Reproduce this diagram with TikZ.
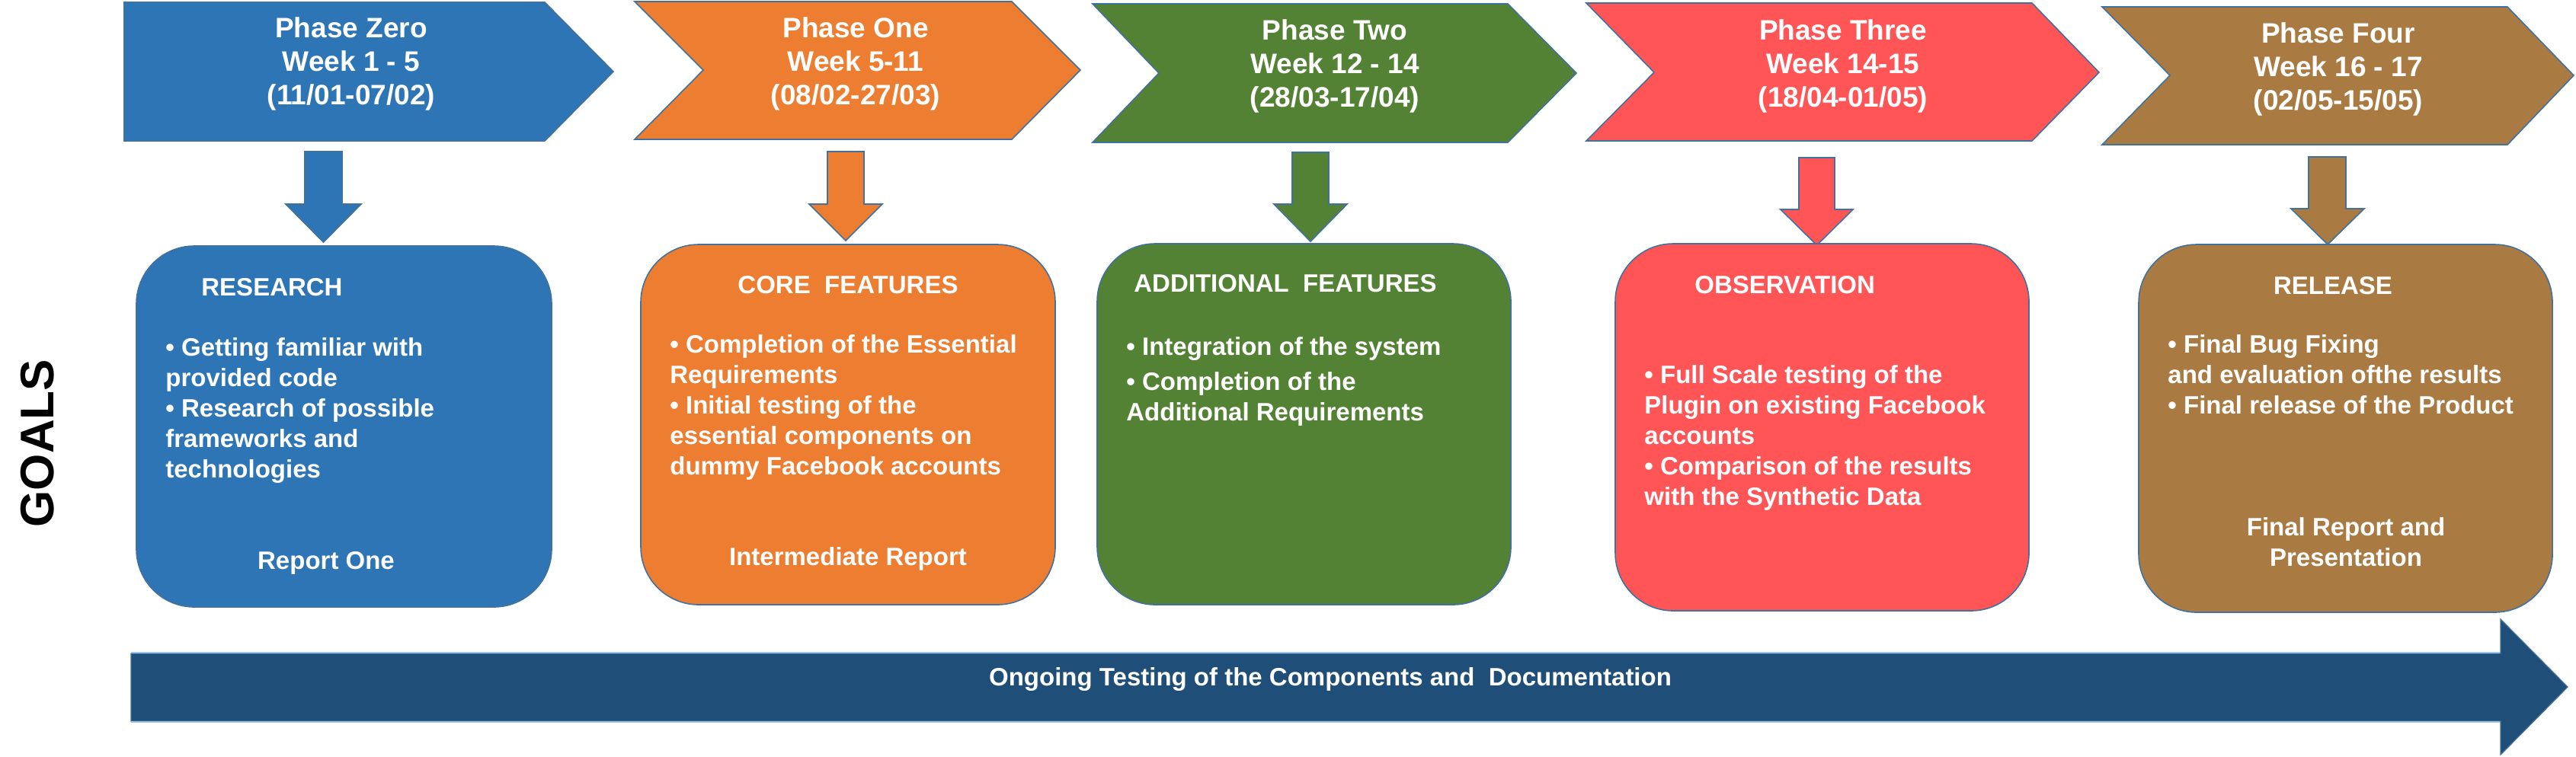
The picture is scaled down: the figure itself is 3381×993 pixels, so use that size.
\documentclass[tikz,border=0pt]{standalone}
\usepackage{fontspec}
\setmainfont{Liberation Sans}
\usepackage{tikz}
\usepackage{xcolor}
\definecolor{phaseblue}{RGB}{46,117,182}
\definecolor{phaseorange}{RGB}{237,125,49}
\definecolor{phasegreen}{RGB}{84,130,53}
\definecolor{phasered}{RGB}{255,85,87}
\definecolor{phasebrown}{RGB}{169,123,67}
\definecolor{ongoingblue}{RGB}{31,78,121}
\definecolor{edgeblue}{RGB}{65,113,156}
\definecolor{lightedge}{RGB}{157,195,230}
\tikzset{%
    shapeedge/.style={draw=edgeblue,line width=0.8pt},
    phasetext/.style={text=white,inner sep=0pt,align=center,
        font=\bfseries\fontsize{18.5}{22}\selectfont},
    goaltext/.style={text=white,inner sep=0pt,align=left,
        font=\bfseries\fontsize{16.5}{20}\selectfont}
}

\begin{document}
\begin{tikzpicture}[x=0.5pt,y=-0.5pt]
\useasboundingbox (0,0) rectangle (3381,993);
\filldraw[shapeedge,fill=phaseblue] (163,3) -- (715,3) -- (805,94) -- (715,185) -- (163,185) -- cycle;
\filldraw[shapeedge,fill=phaseorange] (833,2) -- (1328,2) -- (1418,92) -- (1328,183) -- (833,183) -- (923,92) -- cycle;
\filldraw[shapeedge,fill=phasegreen] (1434,5) -- (1979,5) -- (2069,96) -- (1979,187) -- (1434,187) -- (1521,96) -- cycle;
\filldraw[shapeedge,fill=phasered] (2082,4) -- (2667,4) -- (2755,95) -- (2667,185) -- (2082,185) -- (2171,95) -- cycle;
\filldraw[shapeedge,fill=phasebrown] (2759,9) -- (3291,9) -- (3378,99) -- (3291,190) -- (2759,190) -- (2848,99) -- cycle;
\node[phasetext,anchor=base] (p0) at (461,137) {Phase Zero\\Week 1 - 5\\(11/01-07/02)};
\node[phasetext,anchor=base] (p1) at (1123,137) {Phase One\\Week 5-11\\(08/02-27/03)};
\node[phasetext,anchor=base] (p2) at (1752,140) {Phase Two\\Week 12 - 14\\(28/03-17/04)};
\node[phasetext,anchor=base] (p3) at (2419,140) {Phase Three\\Week 14-15\\(18/04-01/05)};
\node[phasetext,anchor=base] (p4) at (3069,144) {Phase Four\\Week 16 - 17\\(02/05-15/05)};
\filldraw[shapeedge,fill=phaseblue] (400,199) -- ++(49,0) -- ++(0,69) -- ++(25,0) -- ++(-49.5,50) -- ++(-49.5,-50) -- ++(25,0) -- cycle;
\filldraw[shapeedge,fill=phaseorange] (1086,199) -- ++(48,0) -- ++(0,69) -- ++(24,0) -- ++(-48,48) -- ++(-48,-48) -- ++(24,0) -- cycle;
\filldraw[shapeedge,fill=phasegreen] (1696,200) -- ++(48,0) -- ++(0,68) -- ++(24,0) -- ++(-48,49) -- ++(-48,-49) -- ++(24,0) -- cycle;
\filldraw[shapeedge,fill=phasered] (2361,207) -- ++(47,0) -- ++(0,68) -- ++(24,0) -- ++(-47.5,47) -- ++(-47.5,-47) -- ++(24,0) -- cycle;
\filldraw[shapeedge,fill=phasebrown] (3030,206) -- ++(49,0) -- ++(0,68) -- ++(24,0) -- ++(-48,47) -- ++(-48,-47) -- ++(23,0) -- cycle;
\filldraw[shapeedge,fill=phaseblue,rounded corners=38pt] (179,323) rectangle (724,797);
\filldraw[shapeedge,fill=phaseorange,rounded corners=38pt] (841,321) rectangle (1385,794);
\filldraw[shapeedge,fill=phasegreen,rounded corners=38pt] (1440,320) rectangle (1983,794);
\filldraw[shapeedge,fill=phasered,rounded corners=38pt] (2120,320) rectangle (2663,802);
\filldraw[shapeedge,fill=phasebrown,rounded corners=38pt] (2807,321) rectangle (3350,804);
\node[goaltext,anchor=base west] (t0) at (264,388) {RESEARCH};
\node[goaltext,anchor=base west] (b0) at (217,627) {• Getting familiar with\\provided code\\• Research of possible\\frameworks and\\technologies};
\node[goaltext,anchor=base] (r0) at (428,747) {Report One};
\node[goaltext,anchor=base] (t1) at (1113,385) {CORE\ \ FEATURES};
\node[goaltext,anchor=base west] (b1) at (879,623) {• Completion of the Essential\\Requirements\\• Initial testing of the\\essential components on\\dummy Facebook accounts};
\node[goaltext,anchor=base] (r1) at (1113,742) {Intermediate Report};
\node[goaltext,anchor=base west] (t2) at (1488,383) {ADDITIONAL\ \ FEATURES};
\node[goaltext,anchor=base west] (b2) at (1478,552) {• Integration of the system\\[3pt]• Completion of the\\Additional Requirements};
\node[goaltext,anchor=base west] (t3) at (2224,385) {OBSERVATION};
\node[goaltext,anchor=base west] (b3) at (2158,663) {• Full Scale testing of the\\Plugin on existing Facebook\\accounts\\• Comparison of the results\\with the Synthetic Data};
\node[goaltext,anchor=base] (t4) at (3062,386) {RELEASE};
\node[goaltext,anchor=base west] (b4) at (2845,543) {• Final Bug Fixing\\and evaluation ofthe results\\• Final release of the Product};
\node[goaltext,anchor=base,align=center] (r4) at (3079,743) {Final Report and\\Presentation};
\node[rotate=90,inner sep=0pt,font=\bfseries\fontsize{31}{31}\selectfont] (goals) at (49,582) {GOALS};
\filldraw[draw=edgeblue,line width=0.6pt,fill=ongoingblue] (172,858) -- (3282,858) -- (3282,813) -- (3370,902) -- (3282,991) -- (3282,947) -- (172,947) -- cycle;
\draw[lightedge,line width=0.8pt] (172,857) -- (3281,857);
\draw[lightedge,line width=0.8pt] (172,948) -- (3281,948);
\node[text=white,inner sep=0pt,anchor=base,font=\bfseries\fontsize{16.5}{19}\selectfont] (ongoing) at (1746,900) {Ongoing Testing of the Components and\ \ Documentation};
\end{tikzpicture}
\end{document}
